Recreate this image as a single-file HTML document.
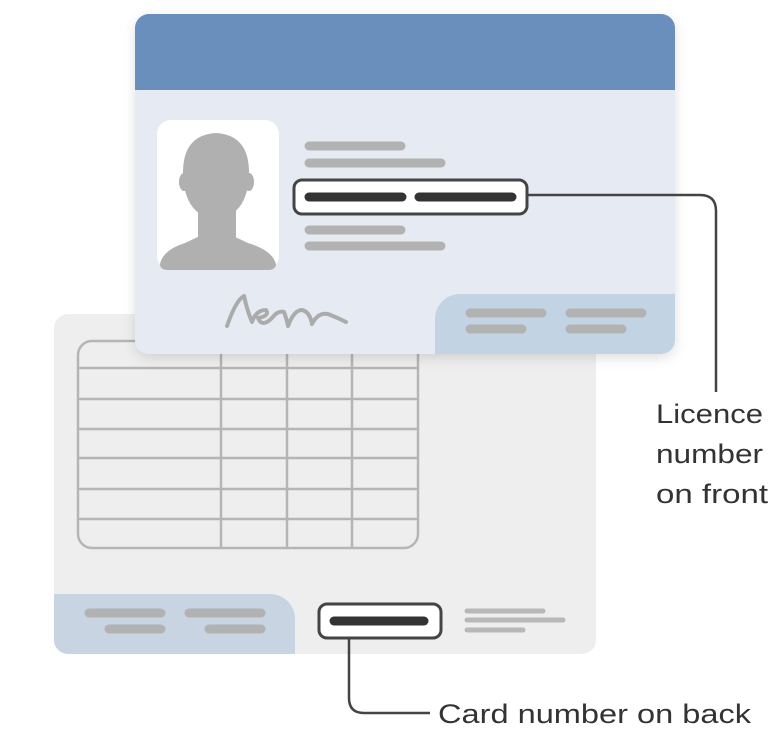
<!DOCTYPE html>
<html><head><meta charset="utf-8"><style>
html,body{margin:0;padding:0;background:#fff;width:782px;height:752px;overflow:hidden}
</style></head><body>
<svg width="782" height="752" viewBox="0 0 782 752" xmlns="http://www.w3.org/2000/svg">
<defs>
<filter id="sh" x="-10%" y="-10%" width="120%" height="130%"><feDropShadow dx="0" dy="4" stdDeviation="6" flood-color="#000" flood-opacity="0.12"/></filter>
<clipPath id="bc"><rect x="54" y="314" width="542" height="340" rx="14"/></clipPath>
<clipPath id="fc"><rect x="135" y="14" width="540" height="340" rx="14"/></clipPath>
</defs>
<g clip-path="url(#bc)">
<rect x="54" y="314" width="542" height="340" fill="#eeeeee"/>
<path d="M54 594 H270 A25 25 0 0 1 295 619 V654 H54 Z" fill="#c8d4e2"/>
</g>
<g stroke="#b5b5b5" stroke-width="2.5" fill="none">
<rect x="78" y="341" width="340" height="207" rx="14"/>
<line x1="78" y1="368" x2="418" y2="368"/><line x1="78" y1="399" x2="418" y2="399"/>
<line x1="78" y1="429" x2="418" y2="429"/><line x1="78" y1="458" x2="418" y2="458"/>
<line x1="78" y1="489" x2="418" y2="489"/><line x1="78" y1="519" x2="418" y2="519"/>
<line x1="221" y1="341" x2="221" y2="548"/><line x1="287" y1="341" x2="287" y2="548"/><line x1="352" y1="341" x2="352" y2="548"/>
</g>
<g stroke="#b2b2b2" stroke-width="9" stroke-linecap="round">
<line x1="89" y1="613" x2="161" y2="613"/><line x1="189" y1="613" x2="261" y2="613"/>
<line x1="109" y1="629" x2="161" y2="629"/><line x1="209" y1="629" x2="261" y2="629"/>
</g>
<g stroke="#b8b8b8" stroke-width="5" stroke-linecap="round">
<line x1="467" y1="611" x2="543" y2="611"/><line x1="467" y1="620" x2="563" y2="620"/><line x1="467" y1="630" x2="523" y2="630"/>
</g>
<rect x="319" y="604" width="122" height="34" rx="8" fill="#fff" stroke="#444" stroke-width="3"/>
<line x1="334" y1="621" x2="424" y2="621" stroke="#333" stroke-width="9" stroke-linecap="round"/>
<path d="M349 639 V698 Q349 713 364 713 H430" fill="none" stroke="#444" stroke-width="2.5"/>
<text x="438" y="723" font-family="Liberation Sans, sans-serif" font-size="27" fill="#333" textLength="313" lengthAdjust="spacingAndGlyphs">Card number on back</text>

<rect x="135" y="14" width="540" height="340" rx="14" fill="#e6ebf3" filter="url(#sh)"/>
<g clip-path="url(#fc)">
<rect x="135" y="14" width="540" height="76" fill="#6a8fbd"/>
<path d="M435 354 V319 A25 25 0 0 1 460 294 H675 V354 Z" fill="#c2d3e3"/>
</g>
<rect x="157" y="120" width="122" height="150" rx="14" fill="#fff"/>
<g fill="#b0b0b0">
<path d="M183 175 Q182 135 216 133 Q250 135 249 175 Q248 203 232 214 H200 Q184 203 183 175 Z"/>
<ellipse cx="184" cy="182" rx="5" ry="9"/><ellipse cx="249" cy="182" rx="5" ry="9"/>
<rect x="198" y="205" width="38" height="35"/>
<path d="M160 264 Q163 250 185 243 L200 236 H233 L248 243 Q272 250 276 264 Q276 270 268 270 H168 Q160 270 160 264 Z"/>
</g>
<g stroke="#b2b2b2" stroke-width="9" stroke-linecap="round">
<line x1="309" y1="146" x2="401" y2="146"/><line x1="309" y1="163" x2="441" y2="163"/>
<line x1="309" y1="230" x2="401" y2="230"/><line x1="309" y1="246" x2="441" y2="246"/>
<line x1="470" y1="313" x2="542" y2="313"/><line x1="570" y1="313" x2="642" y2="313"/>
<line x1="470" y1="329" x2="522" y2="329"/><line x1="570" y1="329" x2="622" y2="329"/>
</g>
<path d="M227 326 Q236 300 244 296 Q247 310 252 322 Q256 310 266 310 Q270 316 258 318 Q262 328 272 318 Q278 310 284 312 Q287 320 288 326 Q294 310 302 310 Q310 312 312 324 Q318 312 328 314 Q338 318 346 322" fill="none" stroke="#ababab" stroke-width="4" stroke-linecap="round" stroke-linejoin="round"/>
<rect x="294" y="180" width="233" height="34" rx="8" fill="#fff" stroke="#444" stroke-width="3"/>
<line x1="309" y1="197" x2="402" y2="197" stroke="#333" stroke-width="9" stroke-linecap="round"/>
<line x1="419" y1="197" x2="512" y2="197" stroke="#333" stroke-width="9" stroke-linecap="round"/>
<path d="M527 195 H700 Q716 195 716 211 V392" fill="none" stroke="#444" stroke-width="2.5"/>
<g font-family="Liberation Sans, sans-serif" font-size="27" fill="#333" lengthAdjust="spacingAndGlyphs">
<text x="656" y="423" textLength="107" lengthAdjust="spacingAndGlyphs">Licence</text>
<text x="656" y="463" textLength="107" lengthAdjust="spacingAndGlyphs">number</text>
<text x="656" y="503" textLength="112" lengthAdjust="spacingAndGlyphs">on front</text>
</g>
</svg>
</body></html>
